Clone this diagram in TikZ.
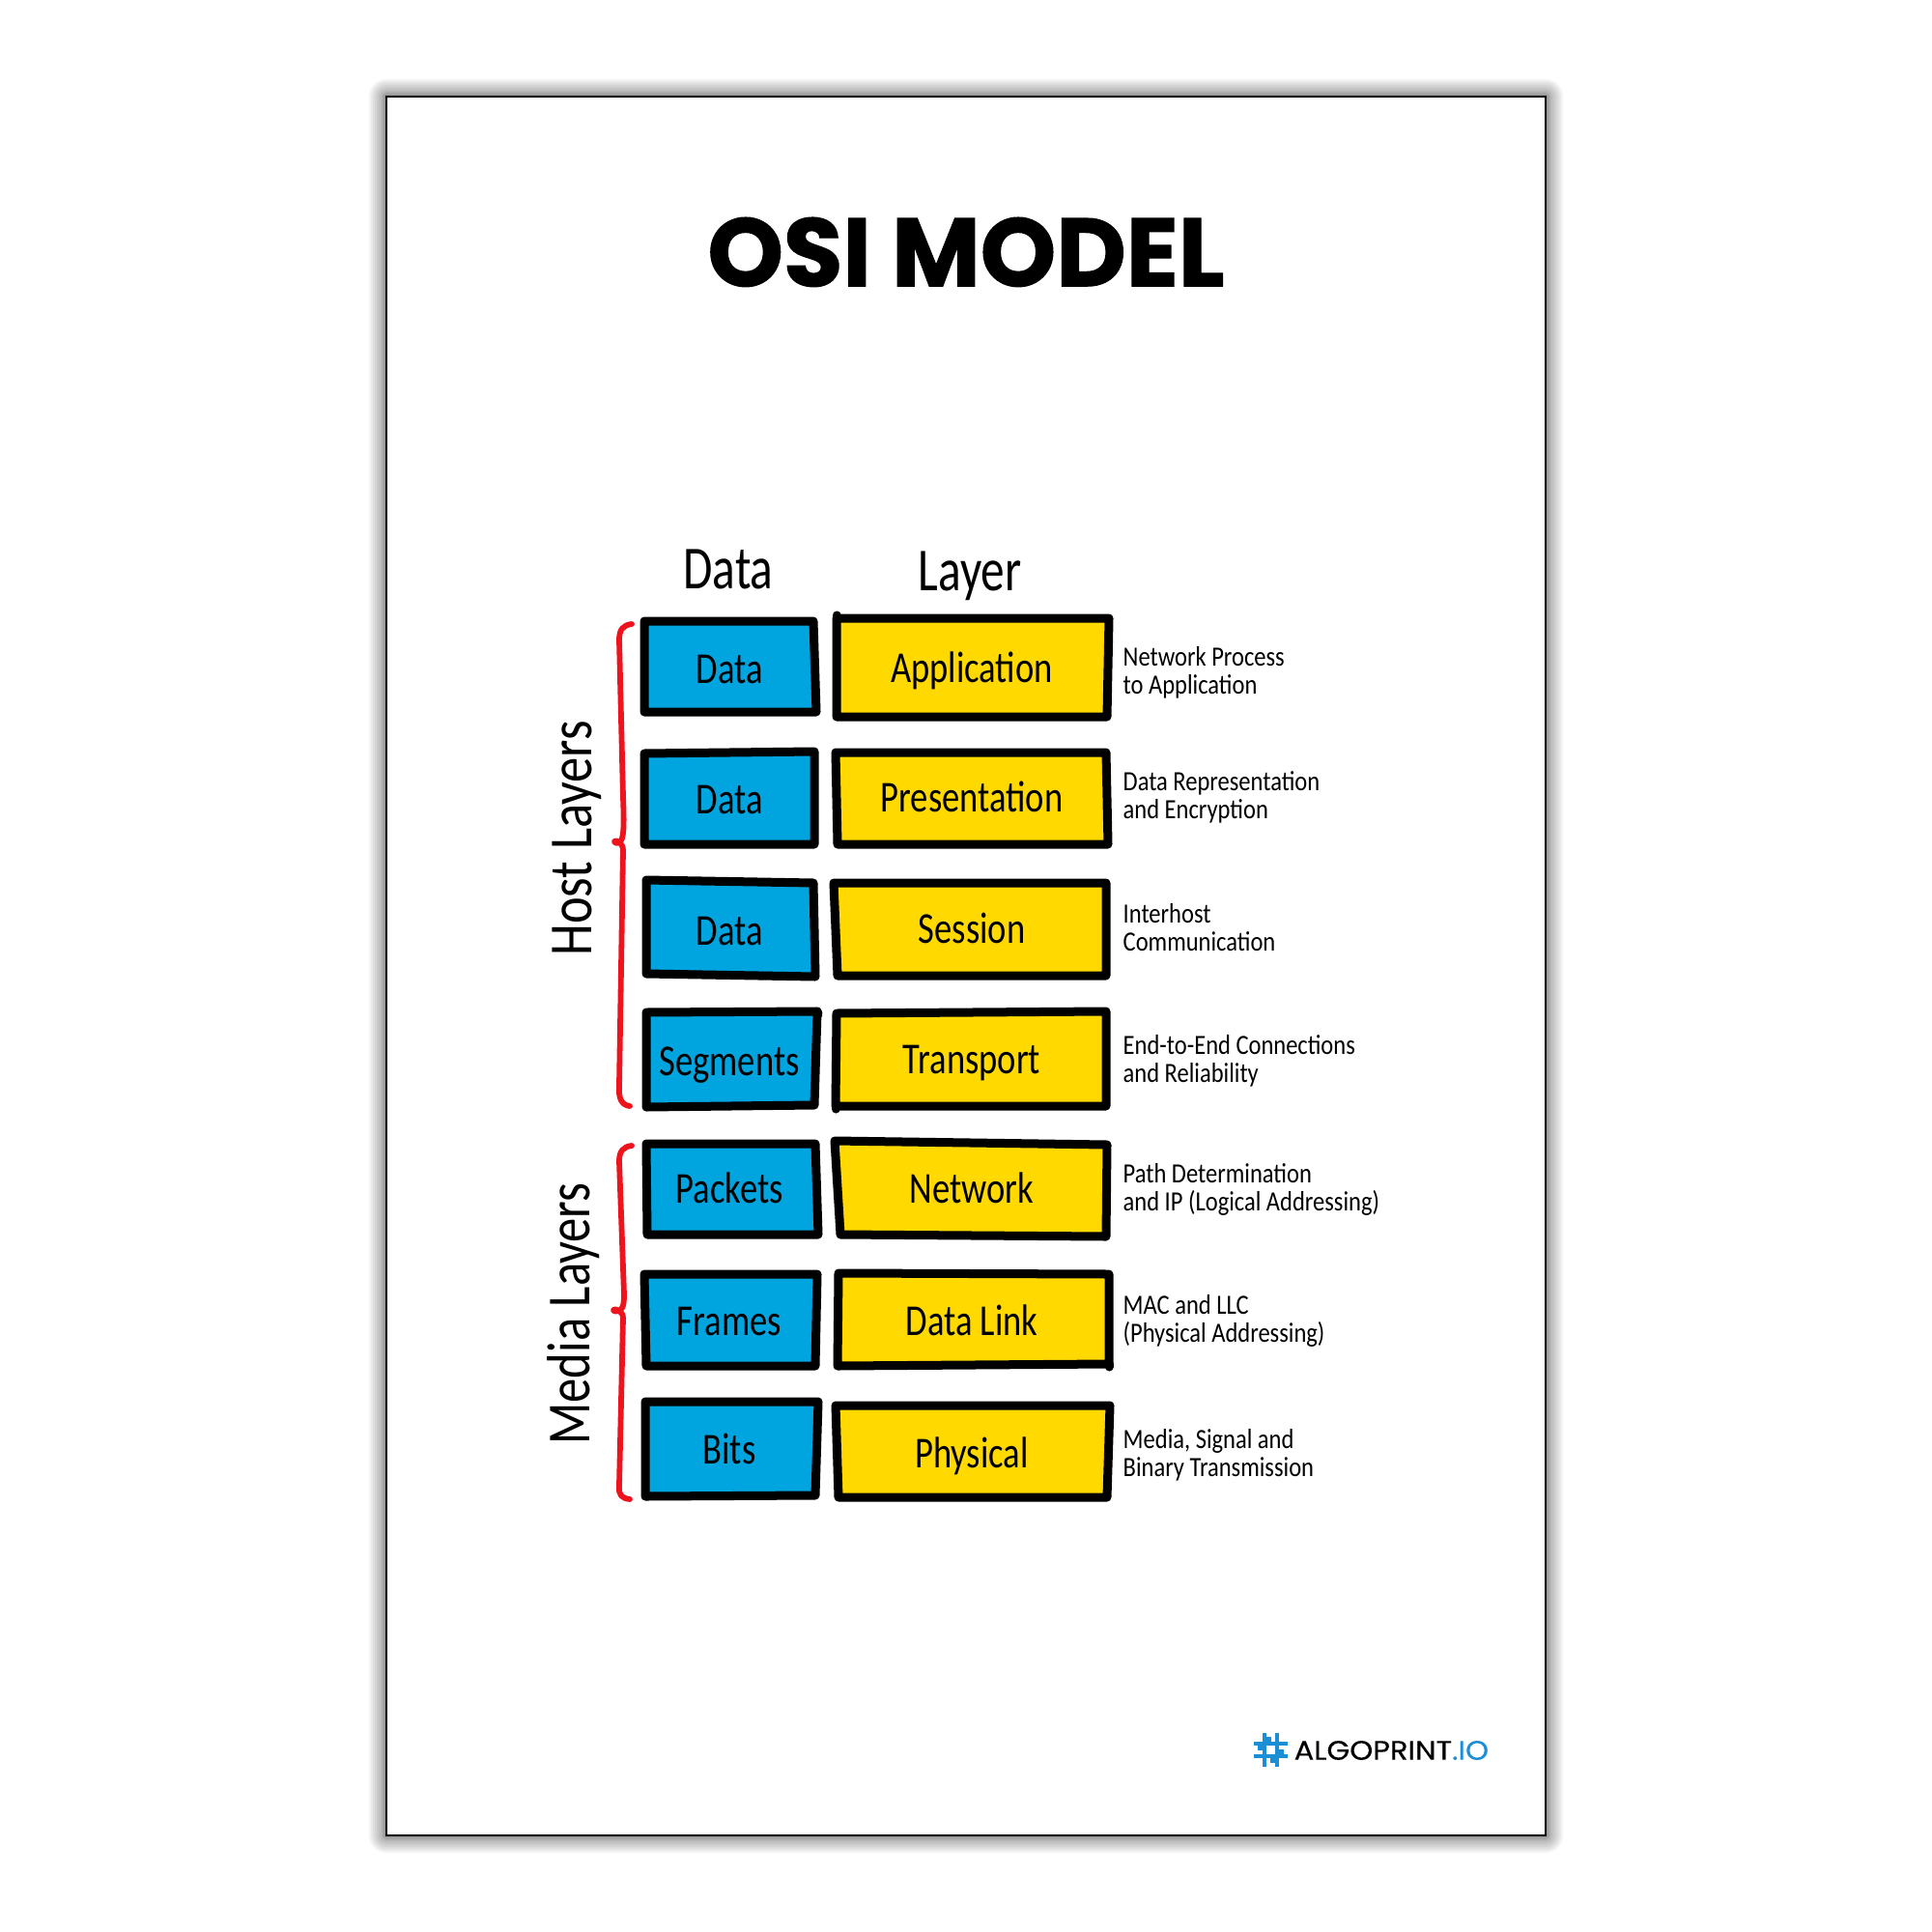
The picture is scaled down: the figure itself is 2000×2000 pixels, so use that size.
\documentclass[tikz,border=0pt]{standalone}
\usepackage{fontspec}
\setmainfont[FakeStretch=0.8]{Carlito}
\newfontfamily\notefont[FakeStretch=0.85]{Carlito}
\newfontfamily\sidefont[FakeStretch=0.83]{Carlito}
\newfontfamily\headfont[FakeStretch=0.78]{Carlito}
\newfontfamily\titlefont[FakeBold=1.2]{Poppins Bold}
\newfontfamily\logofont[FakeStretch=1.1,FakeBold=0.3]{Poppins}
\definecolor{databluefill}{RGB}{0,165,224}
\definecolor{layeryellow}{RGB}{255,217,0}
\definecolor{bracered}{RGB}{238,20,30}
\definecolor{logoblue}{RGB}{27,143,214}
\begin{document}
\begin{tikzpicture}
[x=0.01cm, y=-0.01cm,
databox/.style={draw=black, fill=databluefill, line width=0.09cm, line join=round, line cap=round},
layerbox/.style={draw=black, fill=layeryellow, line width=0.09cm, line join=round, line cap=round},
boxcorner/.style={draw=black, line width=0.09cm, line cap=round},
boxlabel/.style={inner sep=0pt, text height=8pt, text depth=0pt, font=\fontsize{13}{13}\selectfont},
headlabel/.style={inner sep=0pt, text height=11pt, text depth=0pt, font=\headfont\fontsize{18}{18}\selectfont},
sidelabel/.style={inner sep=0pt, text height=11pt, text depth=0pt, rotate=90, font=\sidefont\fontsize{18}{18}\selectfont},
notelabel/.style={inner sep=0pt, anchor=west, align=left, font=\notefont\fontsize{8.2}{8.25}\selectfont},
bracket/.style={draw=bracered, line width=0.058cm, line cap=round, line join=round},
logobar/.style={draw=logoblue, line width=0.045cm},
logotile/.style={fill=logoblue}]

\useasboundingbox (0,0) rectangle (2000,2000);
\fill[white] (0,0) rectangle (2000,2000);
\foreach \r in {18,16,14,12,10,8,6,5,4,3,2}
  \fill[black, opacity=0.045, rounded corners=\r*0.28pt] ({400-\r},{100-\r}) rectangle ({1600+\r},{1900+\r});
\draw[black, fill=white, line width=0.02cm] (400,100) rectangle (1600,1900);

\node[inner sep=0pt, text height=20pt, text depth=0pt, font=\titlefont\fontsize{28.4}{28.4}\selectfont] (title) at (1000,261) {OSI MODEL};

\node[headlabel] (datahead) at (754,590) {Data};
\node[headlabel] (layerhead) at (1004,592) {Layer};

\draw[databox] (667,643) -- (842,643) -- (845,737) -- (667,737) -- cycle;
\draw[databox] (667,780) -- (843,778) -- (843,874) -- (667,874) -- cycle;
\draw[databox] (669,911) -- (842,914) -- (844,1011) -- (669,1008) -- cycle;
\draw[databox] (669,1048) -- (846,1047) -- (843,1144) -- (669,1146) -- cycle;
\draw[databox] (669,1184) -- (844,1184) -- (847,1278) -- (670,1278) -- cycle;
\draw[databox] (667,1319) -- (846,1319) -- (844,1414) -- (669,1414) -- cycle;
\draw[databox] (668,1451) -- (847,1451) -- (844,1548) -- (668,1549) -- cycle;

\draw[layerbox] (866,640) -- (1148,640) -- (1146,742) -- (866,742) -- cycle;
\draw[layerbox] (865,779) -- (1145,779) -- (1147,874) -- (867,874) -- cycle;
\draw[layerbox] (863,914) -- (1145,914) -- (1145,1010) -- (867,1010) -- cycle;
\draw[layerbox] (866,1049) -- (1145,1047) -- (1145,1145) -- (865,1145) -- cycle;
\draw[layerbox] (864,1181) -- (1146,1185) -- (1145,1280) -- (870,1278) -- cycle;
\draw[layerbox] (868,1318) -- (1148,1319) -- (1148,1412) -- (867,1414) -- cycle;
\draw[layerbox] (865,1455) -- (1149,1455) -- (1146,1550) -- (868,1550) -- cycle;

\draw[boxcorner] (866,640) -- (866,637);
\draw[boxcorner] (846,1047) -- (847,1050);
\draw[boxcorner] (865,1145) -- (865,1148);
\draw[boxcorner] (1148,1412) -- (1148,1415);

\node[boxlabel] (data1) at (755,693) {Data};
\node[boxlabel] (data2) at (755,828) {Data};
\node[boxlabel] (data3) at (755,964) {Data};
\node[boxlabel] (segments) at (755,1099) {Segments};
\node[boxlabel] (packets) at (755,1231) {Packets};
\node[boxlabel] (frames) at (755,1368) {Frames};
\node[boxlabel] (bits) at (755,1501) {Bits};

\node[boxlabel] (application) at (1006,692) {Application};
\node[boxlabel] (presentation) at (1006,826) {Presentation};
\node[boxlabel] (session) at (1006,962) {Session};
\node[boxlabel] (transport) at (1006,1097) {Transport};
\node[boxlabel] (network) at (1006,1231) {Network};
\node[boxlabel] (datalink) at (1006,1368) {Data Link};
\node[boxlabel] (physical) at (1006,1505) {Physical};

\node[notelabel] (note1) at (1162,696) {Network Process\\to Application};
\node[notelabel] (note2) at (1162,825) {Data Representation\\and Encryption};
\node[notelabel] (note3) at (1162,960) {Interhost\\Communication};
\node[notelabel] (note4) at (1162,1098) {End-to-End Connections\\and Reliability};
\node[notelabel] (note5) at (1162,1231) {Path Determination\\and IP (Logical Addressing)};
\node[notelabel] (note6) at (1162,1367) {MAC and LLC\\(Physical Addressing)};
\node[notelabel] (note7) at (1162,1506) {Media, Signal and\\Binary Transmission};

\draw[bracket] (654,646) .. controls (645,647) and (641,652) .. (641,662) -- (645,825) .. controls (646,850) and (646,865) .. (643,870) .. controls (640,874) and (636,873) .. (636,871) .. controls (637,869) and (645,872) .. (645,880) -- (641,1124) .. controls (640,1138) and (644,1144) .. (652,1145);
\draw[bracket] (654,1186) .. controls (645,1187) and (641,1192) .. (641,1202) -- (646,1340) .. controls (646,1350) and (645,1354) .. (642,1356) .. controls (639,1358) and (635,1358) .. (635,1356) .. controls (636,1354) and (645,1357) .. (645,1364) -- (641,1538) .. controls (640,1548) and (644,1551) .. (652,1552);

\node[sidelabel] (hostlayers) at (593,868) {Host Layers};
\node[sidelabel, font=\fontsize{18}{18}\selectfont] (medialayers) at (591,1360) {Media Layers};

\draw[logobar] (1298,1805) -- (1333,1805);
\draw[logobar] (1298,1818) -- (1333,1818);
\draw[logobar] (1309,1794) -- (1309,1829);
\draw[logobar] (1322,1794) -- (1322,1829);
\fill[logotile] (1311,1798) rectangle (1316,1803);
\fill[logotile] (1315,1820) rectangle (1320,1825);
\fill[logotile] (1302,1807) rectangle (1307,1812);
\fill[logotile] (1324,1811) rectangle (1329,1816);
\node[inner sep=0pt, anchor=west, text height=5.5pt, text depth=0pt, font=\logofont\fontsize{7.9}{7.9}\selectfont] (logo) at (1339,1812) {ALGOPRINT\textcolor{logoblue}{.IO}};
\end{tikzpicture}
\end{document}
